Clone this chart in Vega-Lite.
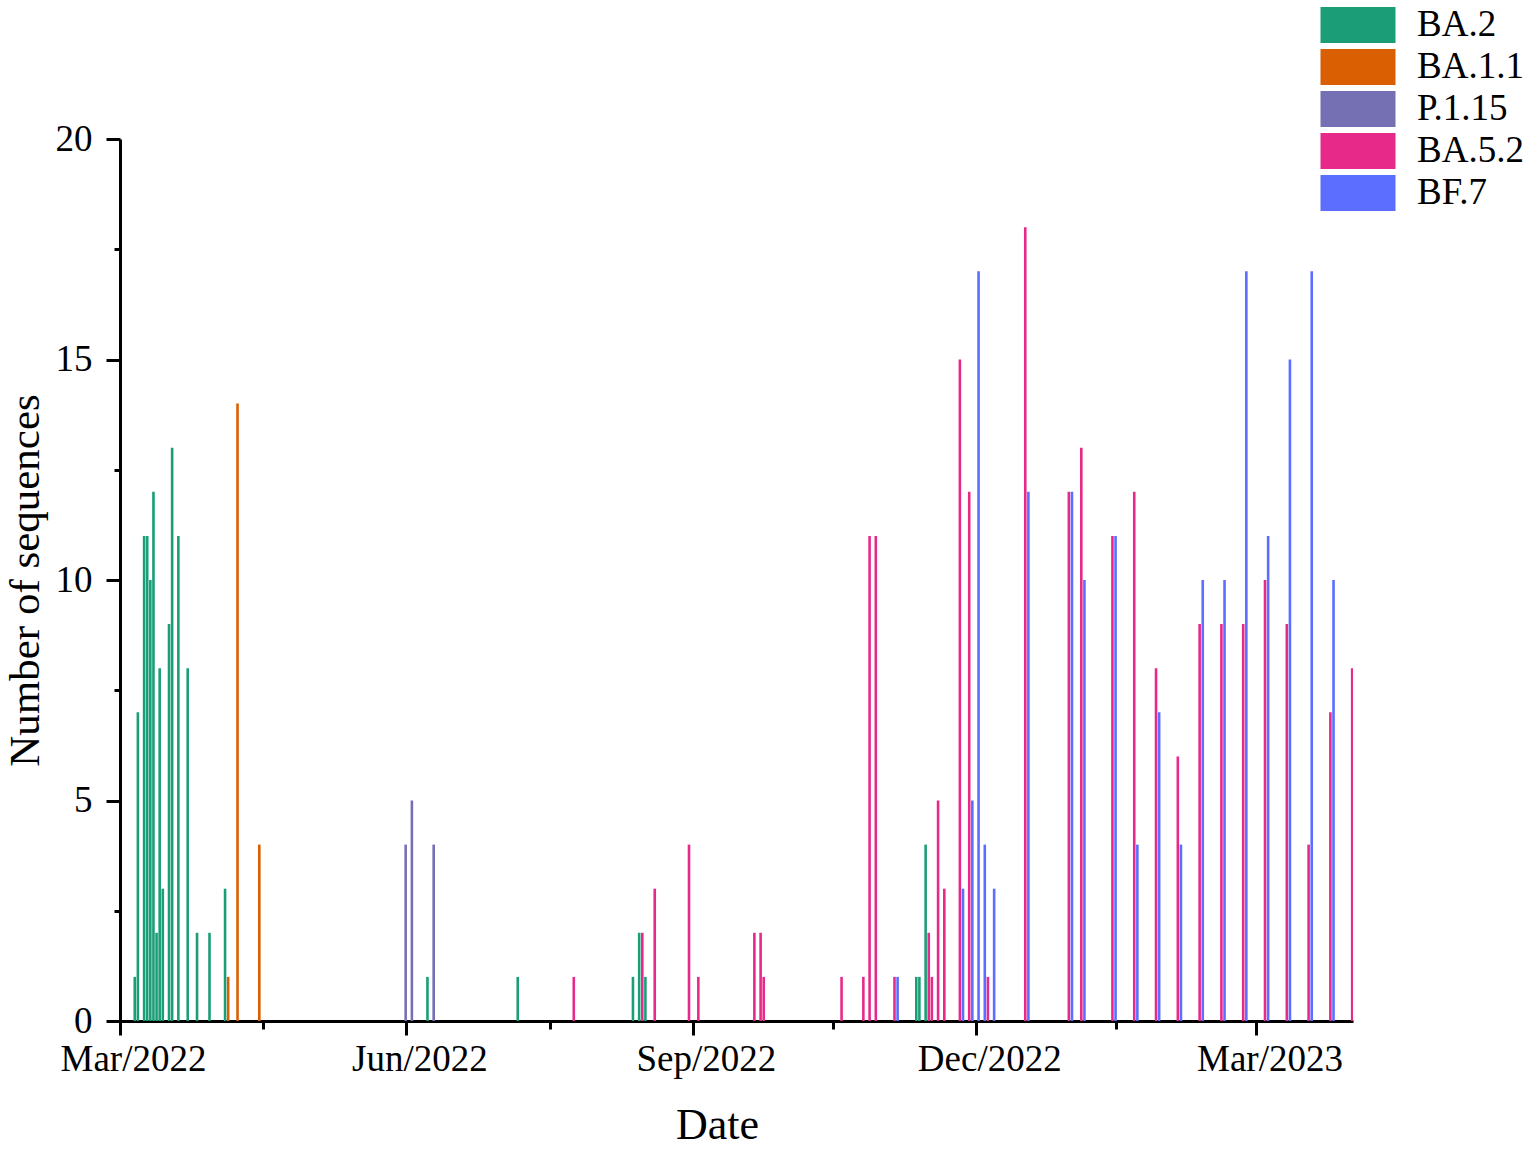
{
  "$schema": "https://vega.github.io/schema/vega-lite/v6.json",
  "width": 1233,
  "height": 882,
  "autosize": "none",
  "padding": {"left": 120, "top": 139, "right": 183, "bottom": 128},
  "background": "white",
  "data": {
    "values": [
      {"date": "2022-03-06", "variant": "BA.2", "n": 1},
      {"date": "2022-03-07", "variant": "BA.2", "n": 7},
      {"date": "2022-03-09", "variant": "BA.2", "n": 11},
      {"date": "2022-03-10", "variant": "BA.2", "n": 11},
      {"date": "2022-03-11", "variant": "BA.2", "n": 10},
      {"date": "2022-03-12", "variant": "BA.2", "n": 12},
      {"date": "2022-03-13", "variant": "BA.2", "n": 2},
      {"date": "2022-03-14", "variant": "BA.2", "n": 8},
      {"date": "2022-03-15", "variant": "BA.2", "n": 3},
      {"date": "2022-03-17", "variant": "BA.2", "n": 9},
      {"date": "2022-03-18", "variant": "BA.2", "n": 13},
      {"date": "2022-03-20", "variant": "BA.2", "n": 11},
      {"date": "2022-03-23", "variant": "BA.2", "n": 8},
      {"date": "2022-03-26", "variant": "BA.2", "n": 2},
      {"date": "2022-03-30", "variant": "BA.2", "n": 2},
      {"date": "2022-04-04", "variant": "BA.2", "n": 3},
      {"date": "2022-06-08", "variant": "BA.2", "n": 1},
      {"date": "2022-07-07", "variant": "BA.2", "n": 1},
      {"date": "2022-08-13", "variant": "BA.2", "n": 1},
      {"date": "2022-08-15", "variant": "BA.2", "n": 2},
      {"date": "2022-08-17", "variant": "BA.2", "n": 1},
      {"date": "2022-11-12", "variant": "BA.2", "n": 1},
      {"date": "2022-11-13", "variant": "BA.2", "n": 1},
      {"date": "2022-11-15", "variant": "BA.2", "n": 4},
      {"date": "2022-04-05", "variant": "BA.1.1", "n": 1},
      {"date": "2022-04-08", "variant": "BA.1.1", "n": 14},
      {"date": "2022-04-15", "variant": "BA.1.1", "n": 4},
      {"date": "2022-06-01", "variant": "P.1.15", "n": 4},
      {"date": "2022-06-03", "variant": "P.1.15", "n": 5},
      {"date": "2022-06-10", "variant": "P.1.15", "n": 4},
      {"date": "2022-07-25", "variant": "BA.5.2", "n": 1},
      {"date": "2022-08-16", "variant": "BA.5.2", "n": 2},
      {"date": "2022-08-20", "variant": "BA.5.2", "n": 3},
      {"date": "2022-08-31", "variant": "BA.5.2", "n": 4},
      {"date": "2022-09-03", "variant": "BA.5.2", "n": 1},
      {"date": "2022-09-21", "variant": "BA.5.2", "n": 2},
      {"date": "2022-09-23", "variant": "BA.5.2", "n": 2},
      {"date": "2022-09-24", "variant": "BA.5.2", "n": 1},
      {"date": "2022-10-19", "variant": "BA.5.2", "n": 1},
      {"date": "2022-10-26", "variant": "BA.5.2", "n": 1},
      {"date": "2022-10-28", "variant": "BA.5.2", "n": 11},
      {"date": "2022-10-30", "variant": "BA.5.2", "n": 11},
      {"date": "2022-11-05", "variant": "BA.5.2", "n": 1},
      {"date": "2022-11-16", "variant": "BA.5.2", "n": 2},
      {"date": "2022-11-17", "variant": "BA.5.2", "n": 1},
      {"date": "2022-11-19", "variant": "BA.5.2", "n": 5},
      {"date": "2022-11-21", "variant": "BA.5.2", "n": 3},
      {"date": "2022-11-26", "variant": "BA.5.2", "n": 15},
      {"date": "2022-11-29", "variant": "BA.5.2", "n": 12},
      {"date": "2022-12-05", "variant": "BA.5.2", "n": 1},
      {"date": "2022-12-17", "variant": "BA.5.2", "n": 18},
      {"date": "2022-12-31", "variant": "BA.5.2", "n": 12},
      {"date": "2023-01-04", "variant": "BA.5.2", "n": 13},
      {"date": "2023-01-14", "variant": "BA.5.2", "n": 11},
      {"date": "2023-01-21", "variant": "BA.5.2", "n": 12},
      {"date": "2023-01-28", "variant": "BA.5.2", "n": 8},
      {"date": "2023-02-04", "variant": "BA.5.2", "n": 6},
      {"date": "2023-02-11", "variant": "BA.5.2", "n": 9},
      {"date": "2023-02-18", "variant": "BA.5.2", "n": 9},
      {"date": "2023-02-25", "variant": "BA.5.2", "n": 9},
      {"date": "2023-03-04", "variant": "BA.5.2", "n": 10},
      {"date": "2023-03-11", "variant": "BA.5.2", "n": 9},
      {"date": "2023-03-18", "variant": "BA.5.2", "n": 4},
      {"date": "2023-03-25", "variant": "BA.5.2", "n": 7},
      {"date": "2023-04-01", "variant": "BA.5.2", "n": 8},
      {"date": "2022-11-06", "variant": "BF.7", "n": 1},
      {"date": "2022-11-27", "variant": "BF.7", "n": 3},
      {"date": "2022-11-30", "variant": "BF.7", "n": 5},
      {"date": "2022-12-02", "variant": "BF.7", "n": 17},
      {"date": "2022-12-04", "variant": "BF.7", "n": 4},
      {"date": "2022-12-07", "variant": "BF.7", "n": 3},
      {"date": "2022-12-18", "variant": "BF.7", "n": 12},
      {"date": "2023-01-01", "variant": "BF.7", "n": 12},
      {"date": "2023-01-05", "variant": "BF.7", "n": 10},
      {"date": "2023-01-15", "variant": "BF.7", "n": 11},
      {"date": "2023-01-22", "variant": "BF.7", "n": 4},
      {"date": "2023-01-29", "variant": "BF.7", "n": 7},
      {"date": "2023-02-05", "variant": "BF.7", "n": 4},
      {"date": "2023-02-12", "variant": "BF.7", "n": 10},
      {"date": "2023-02-19", "variant": "BF.7", "n": 10},
      {"date": "2023-02-26", "variant": "BF.7", "n": 17},
      {"date": "2023-03-05", "variant": "BF.7", "n": 11},
      {"date": "2023-03-12", "variant": "BF.7", "n": 15},
      {"date": "2023-03-19", "variant": "BF.7", "n": 17},
      {"date": "2023-03-26", "variant": "BF.7", "n": 10}
    ]
  },
  "mark": {"type": "bar", "width": 2.6, "clip": true, "xOffset": -0.8},
  "encoding": {
    "x": {
      "field": "date",
      "type": "temporal",
      "scale": {
        "type": "utc",
        "padding": 0,
        "domain": [
          {"year": 2022, "month": 3, "date": 1, "utc": true},
          {"year": 2023, "month": 4, "date": 1, "utc": true}
        ]
      },
      "axis": {
        "title": "Date",
        "titleFont": "Liberation Serif",
        "titleFontSize": 44,
        "titleFontWeight": "normal",
        "titleColor": "black",
        "titlePadding": 26,
        "titleX": 597,
        "titleAlign": "center",
        "values": [
          {"year": 2022, "month": 3, "date": 1, "utc": true},
          {"year": 2022, "month": 4, "date": 16, "utc": true},
          {"year": 2022, "month": 6, "date": 1, "utc": true},
          {"year": 2022, "month": 7, "date": 17, "utc": true},
          {"year": 2022, "month": 9, "date": 1, "utc": true},
          {"year": 2022, "month": 10, "date": 16, "utc": true},
          {"year": 2022, "month": 12, "date": 1, "utc": true},
          {"year": 2023, "month": 1, "date": 15, "utc": true},
          {"year": 2023, "month": 3, "date": 1, "utc": true}
        ],
        "labelExpr": "utcdate(datum.value) === 1 ? utcFormat(datum.value, '%b/%Y') : ''",
        "labelFont": "Liberation Serif",
        "labelFontSize": 37,
        "labelColor": "black",
        "labelOffset": 13,
        "labelPadding": 6,
        "labelOverlap": false,
        "labelFlush": false,
        "grid": false,
        "domainColor": "black",
        "domainWidth": 3,
        "tickColor": "black",
        "tickWidth": 3,
        "tickSize": {"condition": {"test": "utcdate(datum.value) === 1", "value": 14}, "value": 8}
      }
    },
    "y": {
      "field": "n",
      "type": "quantitative",
      "scale": {"domain": [0, 20], "nice": false},
      "axis": {
        "title": "Number of sequences",
        "titleFont": "Liberation Serif",
        "titleFontSize": 43,
        "titleFontWeight": "normal",
        "titleColor": "black",
        "titlePadding": 8,
        "values": [0, 2.5, 5, 7.5, 10, 12.5, 15, 17.5, 20],
        "labelExpr": "datum.value % 5 === 0 ? datum.label : ''",
        "labelFont": "Liberation Serif",
        "labelFontSize": 37,
        "labelColor": "black",
        "labelPadding": 14,
        "labelOverlap": false,
        "labelFlush": false,
        "grid": false,
        "domainColor": "black",
        "domainWidth": 3,
        "tickColor": "black",
        "tickWidth": 3,
        "tickSize": {"condition": {"test": "datum.value % 5 === 0", "value": 14}, "value": 6}
      }
    },
    "color": {
      "field": "variant",
      "type": "nominal",
      "scale": {
        "domain": ["BA.2", "BA.1.1", "P.1.15", "BA.5.2", "BF.7"],
        "range": ["#1b9e77", "#d95f02", "#7570b3", "#e7298a", "#5b6eff"]
      },
      "legend": {
        "title": null,
        "orient": "none",
        "legendX": 1219,
        "legendY": -133,
        "padding": 0,
        "symbolType": "M-2,-0.96H2V0.96H-2Z",
        "symbolSize": 1406,
        "symbolStrokeWidth": 0,
        "symbolOpacity": 1,
        "labelFont": "Liberation Serif",
        "labelFontSize": 37,
        "labelColor": "black",
        "labelOffset": 40,
        "rowPadding": 5
      }
    }
  },
  "config": {"view": {"stroke": null}}
}
